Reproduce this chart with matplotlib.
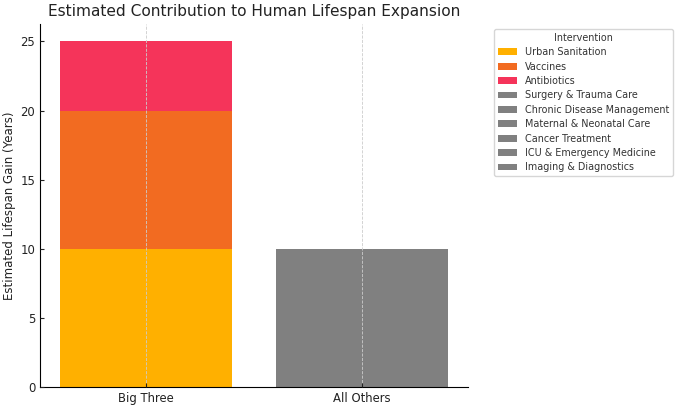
import numpy as np
import matplotlib
matplotlib.use("Agg")
from matplotlib import pyplot as plt

# Data
groups = ["Big Three", "All Others"]
big_three = ["Urban Sanitation", "Vaccines", "Antibiotics"]
big_three_vals = [10, 10, 5]
big_three_colors = ["#FFB000", "#F26B21", "#F5345A"]
others = ["Surgery & Trauma Care", "Chronic Disease Management",
          "Maternal & Neonatal Care", "Cancer Treatment",
          "ICU & Emergency Medicine", "Imaging & Diagnostics"]
others_vals = [3, 2, 2, 1, 1, 1]

fig, ax = plt.subplots(figsize=(6.8, 4.09), dpi=100)
fig.subplots_adjust(left=0.059, right=0.688, top=0.941, bottom=0.054)
x = np.arange(len(groups))

bottom = 0
for name, v, c in zip(big_three, big_three_vals, big_three_colors):
    ax.bar(x[0], v, bottom=bottom, width=0.8, color=c, label=name)
    bottom += v

bottom = 0
for name, v in zip(others, others_vals):
    ax.bar(x[1], v, bottom=bottom, width=0.8, color="#808080", label=name)
    bottom += v

ax.set_xticks(x)
ax.set_xticklabels(groups)
ax.tick_params(axis="both", labelsize=8.4, colors="#222222", length=3, direction="in")
ax.set_ylabel("Estimated Lifespan Gain (Years)", fontsize=8.5, color="#222222", labelpad=3)
ax.set_title("Estimated Contribution to Human Lifespan Expansion", fontsize=11.1, color="#222222")
ax.set_yticks([0, 5, 10, 15, 20, 25])
ax.grid(axis="x", linestyle="--", color="#cccccc", linewidth=0.6)
ax.set_axisbelow(False)
for s in ["top", "right"]:
    ax.spines[s].set_visible(False)

leg = ax.legend(title="Intervention", loc="upper left", bbox_to_anchor=(1.05, 1),
                fontsize=6.9, title_fontsize=6.9, labelspacing=0.46)
for t in leg.get_texts():
    t.set_color("#333333")
leg.get_title().set_color("#333333")

plt.savefig("out.png", dpi=100)
